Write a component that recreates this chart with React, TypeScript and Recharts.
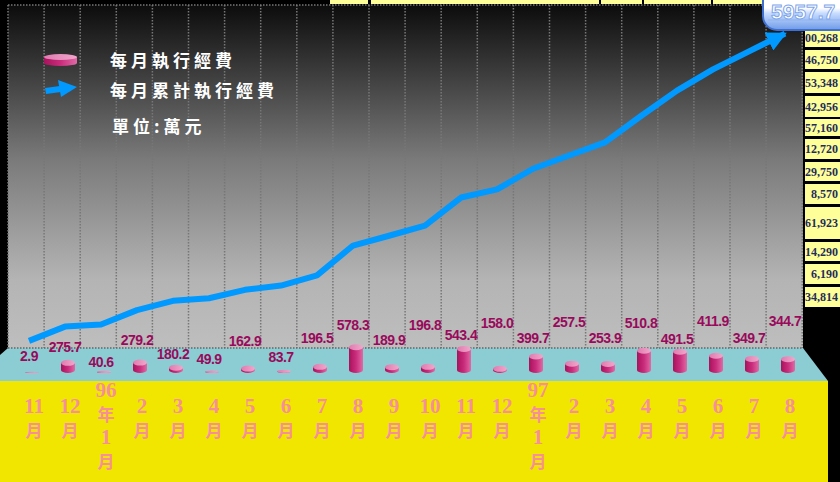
import React from "react";
import { ComposedChart, Bar, Line, XAxis, YAxis } from "recharts";

// 月份 (民國 95/11 ~ 97/8)
const months = [
  "11月", "12月", "96年1月", "2月", "3月", "4月", "5月", "6月", "7月", "8月", "9月",
  "10月", "11月", "12月", "97年1月", "2月", "3月", "4月", "5月", "6月", "7月", "8月",
];
// 每月執行經費 (萬元)
const monthlySpend = [
  2.9, 275.7, 40.6, 279.2, 180.2, 49.9, 162.9, 83.7, 196.5, 578.3, 189.9,
  196.8, 543.4, 158.0, 399.7, 257.5, 253.9, 510.8, 491.5, 411.9, 349.7, 344.7,
];
// 每月累計執行經費 (萬元)
const cumulativeSpend = [
  2.9, 278.6, 319.2, 598.4, 778.6, 828.5, 991.4, 1075.1, 1271.6, 1849.9, 2039.8,
  2236.6, 2780.0, 2938.0, 3337.7, 3595.2, 3849.1, 4359.9, 4851.4, 5263.3, 5613.0, 5957.7,
];
// right-hand table, cut off by the slide edge
const sideTotals = [
  "700,268", "346,750", "153,348", "342,956", "157,160", "312,720",
  "129,750", "8,570", "161,923", "14,290", "6,190", "134,814",
];
const legendNames = ["每月執行經費", "每月累計執行經費"];
const unitNote = "單位:萬元";
const calloutText = "5957.7";

const data = months.map((m, i) => ({
  month: m,
  monthly: monthlySpend[i],
  total: cumulativeSpend[i],
}));

// layout only
const labelRaise = [14, 23, 8, 30, 16, 11, 29, 13, 32, 45, 30, 45, 35, 47, 32, 48, 32, 47, 31, 49, 32, 49];
const tableRows = [
  [29, 47], [50, 69], [72, 93], [96, 117], [119, 136], [139, 159],
  [162, 181], [184, 204], [207, 239], [242, 261], [264, 284], [287, 307],
];
const wallGrid = Array.from({ length: 23 }, (_, k) => 8 + k * 36.1);

function Cylinder(props: any) {
  const { x, y, width, height, index, value } = props;
  const rx = width / 2;
  // the cylinders stand partly below the floor; only the part above it shows
  const bottomEdge = y + height - 4;
  const visible = Math.max(height - 1, 1.2 + height * 0.5);
  const ry = Math.min(3, visible / 2);
  const topC = bottomEdge - visible + ry;
  const baseC = bottomEdge - ry;
  return (
    <g>
      <path
        d={`M${x},${topC} L${x},${baseC} A${rx},${ry} 0 0 0 ${x + width},${baseC} L${x + width},${topC} Z`}
        fill="url(#cylBody)"
      />
      <ellipse cx={x + rx} cy={topC} rx={rx} ry={ry} fill="url(#cylTop)" />
      <text
        x={x + rx - 3}
        y={y + height - 7 - labelRaise[index] + 5}
        textAnchor="middle"
        fontFamily="Liberation Sans, Arial, sans-serif"
        fontWeight="bold"
        fontSize={14}
        letterSpacing={-0.5}
        fill="#990a5c"
      >
        {value.toFixed(1)}
      </text>
    </g>
  );
}

function MonthTick(props: any) {
  const { x, y, payload } = props;
  const label: string = payload.value;
  const m = label.match(/^(\d+)(年)(\d+)(月)$/);
  const parts = m ? m.slice(1) : [label.replace("月", ""), "月"];
  const start = parts.length > 2 ? 20 : 36;
  return (
    <g>
      {parts.map((p, i) => {
        const cjk = /[年月]/.test(p);
        return (
          <text
            key={i}
            x={x + 2}
            y={y + start + i * 23.5}
            textAnchor="middle"
            fill="#f78f9b"
            fontFamily={cjk ? "Noto Sans CJK TC, sans-serif" : "Liberation Serif, serif"}
            fontSize={cjk ? 17 : 21}
            fontWeight={cjk ? 700 : 700}
          >
            {p}
          </text>
        );
      })}
    </g>
  );
}

export default function App() {
  return (
    <div
      style={{
        position: "fixed",
        left: 0,
        top: 0,
        width: 840,
        height: 482,
        background: "#000",
        overflow: "hidden",
      }}
    >
      {/* back wall, floor, base */}
      <svg width={840} height={482} style={{ position: "absolute", left: 0, top: 0 }}>
        <defs>
          <linearGradient id="wallGrad" x1="0" y1="0" x2="0" y2="1">
            <stop offset="0" stopColor="#0c0c0c" />
            <stop offset="0.45" stopColor="#7a7a7a" />
            <stop offset="0.8" stopColor="#b4b4b4" />
            <stop offset="1" stopColor="#bebebe" />
          </linearGradient>
          <linearGradient id="cylBody" x1="0" y1="0" x2="1" y2="0">
            <stop offset="0" stopColor="#a8125c" />
            <stop offset="0.5" stopColor="#c92c7c" />
            <stop offset="1" stopColor="#e06aa6" />
          </linearGradient>
          <linearGradient id="cylTop" x1="0" y1="0" x2="1" y2="0">
            <stop offset="0" stopColor="#e07ab0" />
            <stop offset="1" stopColor="#f0a8cc" />
          </linearGradient>
          <marker
            id="arrowHead"
            viewBox="0 0 10 10"
            refX={9}
            refY={5}
            markerWidth={20}
            markerHeight={20}
            markerUnits="userSpaceOnUse"
            orient="auto"
          >
            <path d="M0,0 L10,5 L0,10 z" fill="#0099ff" />
          </marker>
        </defs>
        <rect x={8} y={5} width={795} height={343} fill="url(#wallGrad)" />
        {wallGrid.map((gx, k) => (
          <line
            key={k}
            x1={gx}
            x2={gx}
            y1={5}
            y2={348}
            stroke="#777"
            strokeWidth={1.5}
            strokeDasharray="1.5 1.5"
          />
        ))}
        <line x1={8} x2={803} y1={5} y2={5} stroke="#777" strokeWidth={1.5} strokeDasharray="1.5 1.5" />
        <polygon points="8,348 803,348 828,381 0,381 0,355" fill="#8ccdd4" />
        <line x1={8} x2={803} y1={348} y2={348} stroke="#666" strokeWidth={1.5} strokeDasharray="1.5 1.5" />
        <rect x={0} y={381} width={828} height={101} fill="#f0e600" />

        {/* legend */}
        <path d="M44,57 L44,63 A16.5,3 0 0 0 77,63 L77,57 Z" fill="url(#cylBody)" />
        <ellipse cx={60.5} cy={57} rx={16.5} ry={3} fill="url(#cylTop)" />
        <polygon points="45,88 60,86 61,92 46,94" fill="#0099ff" />
        <polygon points="58,80 77,87 61,97" fill="#0099ff" />
        {legendNames.map((n, i) => (
          <text
            key={n}
            x={110}
            y={67 + i * 30}
            fill="#fff"
            fontFamily="Noto Sans CJK TC, sans-serif"
            fontWeight="bold"
            fontSize={17}
            letterSpacing={4}
          >
            {n}
          </text>
        ))}
        <text
          x={112}
          y={133}
          fill="#fff"
          fontFamily="Noto Sans CJK TC, sans-serif"
          fontWeight="bold"
          fontSize={17}
          letterSpacing={4}
        >
          {unitNote}
        </text>
      </svg>

      <div style={{ position: "absolute", left: 0, top: 0 }}>
        <ComposedChart
          width={840}
          height={482}
          data={data}
          margin={{ top: 20, right: 34, bottom: 75, left: 14 }}
        >
          <XAxis
            dataKey="month"
            axisLine={false}
            tickLine={false}
            tickSize={0}
            tickMargin={0}
            interval={0}
            height={30}
            tick={<MonthTick />}
          />
          <XAxis xAxisId="line" dataKey="month" hide padding={{ left: -3, right: 3 }} />
          <YAxis yAxisId="bar" hide domain={[0, 6919]} allowDataOverflow />
          <YAxis yAxisId="line" hide domain={[-698, 6221]} allowDataOverflow />
          <Bar
            dataKey="monthly"
            yAxisId="bar"
            barSize={14}
            shape={<Cylinder />}
            isAnimationActive={false}
          />
          <Line
            dataKey="total"
            xAxisId="line"
            yAxisId="line"
            type="linear"
            stroke="#0099ff"
            strokeWidth={6}
            strokeLinejoin="round"
            dot={false}
            markerEnd="url(#arrowHead)"
            isAnimationActive={false}
          />
        </ComposedChart>
      </div>

      {/* table strip, side table, callout */}
      <svg width={840} height={482} style={{ position: "absolute", left: 0, top: 0 }}>
        <defs>
          <clipPath id="tableClip">
            <rect x={805} y={0} width={35} height={320} />
          </clipPath>
          <linearGradient id="calloutGrad" x1="0" y1="0" x2="0" y2="1">
            <stop offset="0" stopColor="#ffffff" />
            <stop offset="0.5" stopColor="#ffffff" />
            <stop offset="0.62" stopColor="#c8dcff" />
            <stop offset="1" stopColor="#6e9be8" />
          </linearGradient>
        </defs>
        {[[330, 368], [371, 599], [601, 642], [644, 711], [713, 763]].map(([a, b]) => (
          <rect key={a} x={a} y={0} width={b - a} height={4} fill="#ffff99" />
        ))}
        <g clipPath="url(#tableClip)">
          {tableRows.map(([t, b], i) => (
            <g key={i}>
              <rect x={805} y={t} width={35} height={b - t} fill="#ffff99" />
              <text
                x={838}
                y={(t + b) / 2 + 4}
                textAnchor="end"
                fill="#1f2d5c"
                fontFamily="Liberation Serif, serif"
                fontWeight="bold"
                fontSize={12}
              >
                {sideTotals[i]}
              </text>
            </g>
          ))}
        </g>
        <rect x={763} y={-14} width={90} height={44} rx={14} fill="url(#calloutGrad)" stroke="#3f6fd0" strokeWidth={2} />
        <line x1={768} x2={840} y1={20} y2={20} stroke="#8fb2ee" strokeWidth={1} />
        <text
          x={771}
          y={19}
          fill="#ffffff"
          stroke="#7fa6ea"
          strokeWidth={1}
          fontFamily="Liberation Sans, Arial, sans-serif"
          fontWeight="bold"
          fontSize={21}
        >
          {calloutText}
        </text>
      </svg>
    </div>
  );
}
